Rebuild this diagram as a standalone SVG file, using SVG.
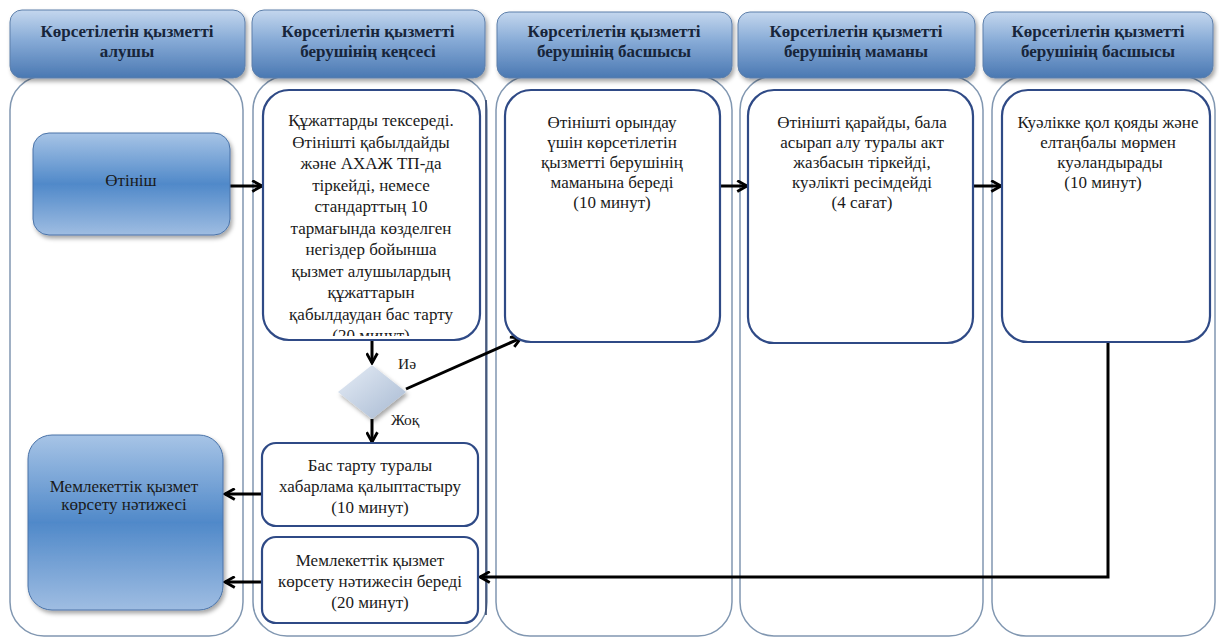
<svg xmlns="http://www.w3.org/2000/svg" width="1219" height="637" viewBox="0 0 1219 637">
<style>
text{font-family:'Liberation Serif','Times New Roman','DejaVu Serif',serif}
.hdr{font-weight:bold;font-size:17px;fill:#17253a;text-anchor:middle}
.txt{font-size:17px;fill:#1a1a1a;text-anchor:middle}
.lbl{font-size:15.5px;fill:#1a1a1a}
.lane{fill:#fff;stroke:#8197b1;stroke-width:1.5}
.hbox{fill:url(#gH);stroke:#5d7faa;stroke-width:1}
.bbox{fill:url(#gB);stroke:#4a73a8;stroke-width:1}
.wbox{fill:#fff;stroke:#2f4a86;stroke-width:2.2}
.con{fill:none;stroke:#000;stroke-width:3}
</style>
<defs>
<linearGradient id="gH" x1="0" y1="0" x2="0" y2="1">
<stop offset="0" stop-color="#c4d7ee"/>
<stop offset="0.45" stop-color="#86aad6"/>
<stop offset="1" stop-color="#4a78b2"/>
</linearGradient>
<linearGradient id="gB" x1="0" y1="0" x2="0" y2="1">
<stop offset="0" stop-color="#a7c4e6"/>
<stop offset="0.5" stop-color="#5089c9"/>
<stop offset="1" stop-color="#9fbde2"/>
</linearGradient>
<linearGradient id="gD" x1="0" y1="0" x2="1" y2="1">
<stop offset="0" stop-color="#e6edf6"/>
<stop offset="1" stop-color="#a7b9d2"/>
</linearGradient>
<filter id="sh" x="-10%" y="-10%" width="125%" height="130%">
<feDropShadow dx="2" dy="3" stdDeviation="2" flood-color="#000" flood-opacity="0.35"/>
</filter>
<marker id="arr" viewBox="0 0 12 12" refX="10.5" refY="6" markerWidth="13" markerHeight="13" orient="auto" markerUnits="userSpaceOnUse">
<path d="M1.5,1 L10.5,6 L1.5,11" fill="none" stroke="#000" stroke-width="2.6"/>
</marker>
<clipPath id="clip2"><rect x="263" y="90" width="217" height="246"/></clipPath>
</defs>

<g id="lanes">
<rect class="lane" x="10" y="76" width="233" height="560" rx="34"/>
<rect class="lane" x="253" y="76" width="234" height="560" rx="34"/>
<line x1="486" y1="100" x2="486" y2="615" stroke="#2a3c66" stroke-width="1.5"/>
<rect class="lane" x="496" y="76" width="236" height="560" rx="34"/>
<rect class="lane" x="740" y="76" width="243" height="560" rx="34"/>
<rect class="lane" x="992" y="76" width="223" height="560" rx="34"/>
</g>

<g id="headers">
<g id="h1"><rect class="hbox" x="10" y="10" width="235" height="68" rx="12" filter="url(#sh)"/>
<text class="hdr" x="127" y="37">Көрсетілетін қызметті</text><text class="hdr" x="127" y="57">алушы</text></g>
<g id="h2"><rect class="hbox" x="252" y="10" width="233" height="68" rx="12" filter="url(#sh)"/>
<text class="hdr" x="368" y="37">Көрсетілетін қызметті</text><text class="hdr" x="368" y="57">берушінің кеңсесі</text></g>
<g id="h3"><rect class="hbox" x="497" y="12" width="235" height="66" rx="12" filter="url(#sh)"/>
<text class="hdr" x="614" y="37">Көрсетілетін қызметті</text><text class="hdr" x="614" y="57">берушінің басшысы</text></g>
<g id="h4"><rect class="hbox" x="738" y="12" width="237" height="66" rx="12" filter="url(#sh)"/>
<text class="hdr" x="856" y="37">Көрсетілетін қызметті</text><text class="hdr" x="856" y="57">берушінің маманы</text></g>
<g id="h5"><rect class="hbox" x="983" y="12" width="230" height="66" rx="12" filter="url(#sh)"/>
<text class="hdr" x="1098" y="37">Көрсетілетін қызметті</text><text class="hdr" x="1098" y="57">берушінің басшысы</text></g>
</g>

<g id="connectors">
<line class="con" x1="230" y1="186" x2="262" y2="186" marker-end="url(#arr)"/>
<line class="con" x1="372" y1="340" x2="372" y2="363" marker-end="url(#arr)"/>
<line class="con" x1="406" y1="389" x2="521" y2="338" marker-end="url(#arr)"/>
<line class="con" x1="372" y1="419" x2="372" y2="442" marker-end="url(#arr)"/>
<line class="con" x1="720" y1="186" x2="747" y2="186" marker-end="url(#arr)"/>
<line class="con" x1="973" y1="186" x2="1001" y2="186" marker-end="url(#arr)"/>
<line class="con" x1="262" y1="494" x2="225" y2="494" marker-end="url(#arr)"/>
<line class="con" x1="262" y1="582" x2="225" y2="582" marker-end="url(#arr)"/>
<polyline class="con" points="1108,342 1108,577 480,577" marker-end="url(#arr)"/>
<text class="lbl" x="398" y="369">Иә</text>
<text class="lbl" x="391" y="425">Жоқ</text>
</g>

<g id="n-otinish">
<rect class="bbox" x="33" y="133" width="197" height="102" rx="16" filter="url(#sh)"/>
<text class="txt" x="131" y="186">Өтініш</text>
</g>

<g id="n-check">
<rect class="wbox" x="263" y="90" width="217" height="250" rx="26"/>
<g clip-path="url(#clip2)">
<text class="txt" x="371" y="126">Құжаттарды тексереді.</text>
<text class="txt" x="371" y="147.5">Өтінішті қабылдайды</text>
<text class="txt" x="371" y="169">және АХАЖ ТП-да</text>
<text class="txt" x="371" y="190.5">тіркейді, немесе</text>
<text class="txt" x="371" y="212">стандарттың 10</text>
<text class="txt" x="371" y="233.5">тармағында көзделген</text>
<text class="txt" x="371" y="255">негіздер бойынша</text>
<text class="txt" x="371" y="276.5">қызмет алушылардың</text>
<text class="txt" x="371" y="298">құжаттарын</text>
<text class="txt" x="371" y="319.5">қабылдаудан бас тарту</text>
<text class="txt" x="371" y="341">(20 минут)</text>
</g>
</g>

<g id="n-decision">
<polygon points="372,365 406,392 372,419 338,392" fill="url(#gD)" filter="url(#sh)"/>
</g>

<g id="n-head1">
<rect class="wbox" x="505" y="90" width="215" height="252" rx="26"/>
<text class="txt" x="612" y="128">Өтінішті орындау</text>
<text class="txt" x="612" y="148">үшін көрсетілетін</text>
<text class="txt" x="612" y="168">қызметті берушінің</text>
<text class="txt" x="612" y="188">маманына береді</text>
<text class="txt" x="612" y="208">(10 минут)</text>
</g>

<g id="n-spec">
<rect class="wbox" x="748" y="90" width="225" height="253" rx="26"/>
<text class="txt" x="862" y="128">Өтінішті қарайды, бала</text>
<text class="txt" x="862" y="148">асырап алу туралы акт</text>
<text class="txt" x="862" y="168">жазбасын тіркейді,</text>
<text class="txt" x="862" y="188">куәлікті ресімдейді</text>
<text class="txt" x="862" y="208">(4 сағат)</text>
</g>

<g id="n-head2">
<rect class="wbox" x="1002" y="90" width="208" height="252" rx="26"/>
<text class="txt" x="1108" y="128">Куәлікке қол қояды және</text>
<text class="txt" x="1108" y="148">елтаңбалы мөрмен</text>
<text class="txt" x="1110" y="168">куәландырады</text>
<text class="txt" x="1103" y="188">(10 минут)</text>
</g>

<g id="n-refuse">
<rect class="wbox" x="262" y="443" width="216" height="83" rx="14"/>
<text class="txt" x="370" y="471">Бас тарту туралы</text>
<text class="txt" x="370" y="492">хабарлама қалыптастыру</text>
<text class="txt" x="370" y="513">(10 минут)</text>
</g>

<g id="n-give">
<rect class="wbox" x="262" y="537" width="216" height="86" rx="14"/>
<text class="txt" x="370" y="566">Мемлекеттік қызмет</text>
<text class="txt" x="370" y="587">көрсету нәтижесін береді</text>
<text class="txt" x="370" y="608">(20 минут)</text>
</g>

<g id="n-result">
<rect class="bbox" x="28" y="435" width="195" height="175" rx="24" filter="url(#sh)"/>
<text class="txt" x="124" y="492">Мемлекеттік қызмет</text>
<text class="txt" x="124" y="510">көрсету нәтижесі</text>
</g>
</svg>
